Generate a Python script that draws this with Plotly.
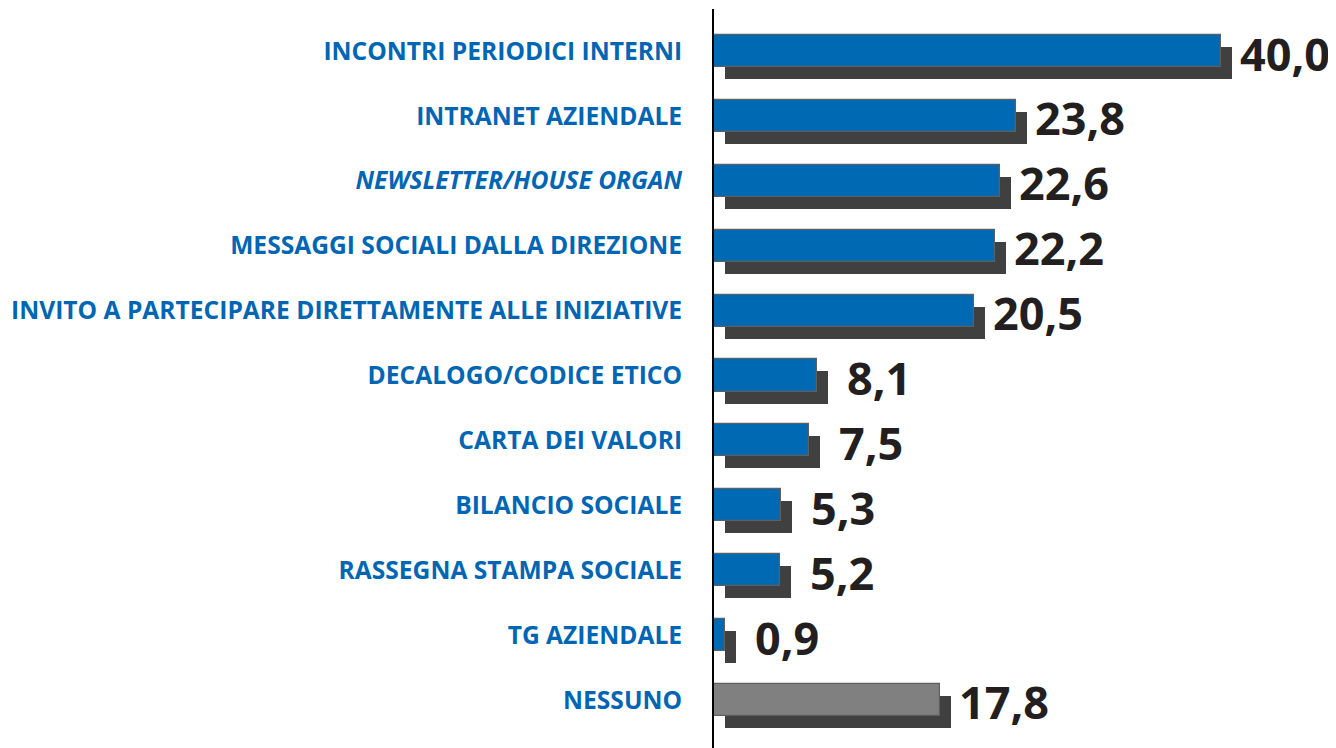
import plotly.graph_objects as go

categories = [
    "INCONTRI PERIODICI INTERNI",
    "INTRANET AZIENDALE",
    "<i>NEWSLETTER/HOUSE ORGAN</i>",
    "MESSAGGI SOCIALI DALLA DIREZIONE",
    "INVITO A PARTECIPARE DIRETTAMENTE ALLE INIZIATIVE",
    "DECALOGO/CODICE ETICO",
    "CARTA DEI VALORI",
    "BILANCIO SOCIALE",
    "RASSEGNA STAMPA SOCIALE",
    "TG AZIENDALE",
    "NESSUNO",
]
values = [40.0, 23.8, 22.6, 22.2, 20.5, 8.1, 7.5, 5.3, 5.2, 0.9, 17.8]
bar_colors = ["#0069B4"] * 10 + ["#808080"]
labels = [f"{v:.1f}".replace(".", ",") for v in values]

px_per_unit = 507 / 40.0
x_max = (1336 - 714) / px_per_unit
shadow_dx = 11 / px_per_unit
row = 64.8
bar_w = 32 / row
shadow_dy = 12 / row

ypos = list(range(len(categories)))

fig = go.Figure()
fig.add_trace(go.Bar(
    x=values, y=ypos, orientation="h", base=shadow_dx,
    width=bar_w, offset=-bar_w / 2 + shadow_dy,
    marker=dict(color="#404040", line=dict(width=0)),
    hoverinfo="skip", showlegend=False,
))
fig.add_trace(go.Bar(
    x=values, y=ypos, orientation="h",
    width=bar_w, offset=-bar_w / 2,
    marker=dict(color=bar_colors, line=dict(width=1.2, color="#5f5f5f")),
    showlegend=False,
))

for i, (v, t) in enumerate(zip(values, labels)):
    fig.add_annotation(
        x=v, y=i + 2 / row, text=f"<b>{t}</b>", showarrow=False,
        xanchor="left", yanchor="middle",
        xshift=17 if v >= 10 else 28,
        font=dict(family="Open Sans", size=45, color="#231f20"),
    )

fig.update_layout(
    width=1328, height=740,
    margin=dict(l=706, r=0, t=1, b=0),
    paper_bgcolor="white", plot_bgcolor="white",
    barmode="overlay",
    bargap=0,
    xaxis=dict(range=[0, x_max], visible=False, fixedrange=True),
    yaxis=dict(
        range=[len(categories) - 1 + 48 / row, -42 / row],
        tickmode="array", tickvals=ypos,
        ticktext=[f"<b>{c}</b>" for c in categories],
        tickfont=dict(family="Open Sans", size=24.6, color="#0066B3"),
        showline=True, linecolor="#000000", linewidth=2,
        showgrid=False, zeroline=False, ticks="",
        ticklabelstandoff=25,
    ),
)

fig.write_html("out.html")
